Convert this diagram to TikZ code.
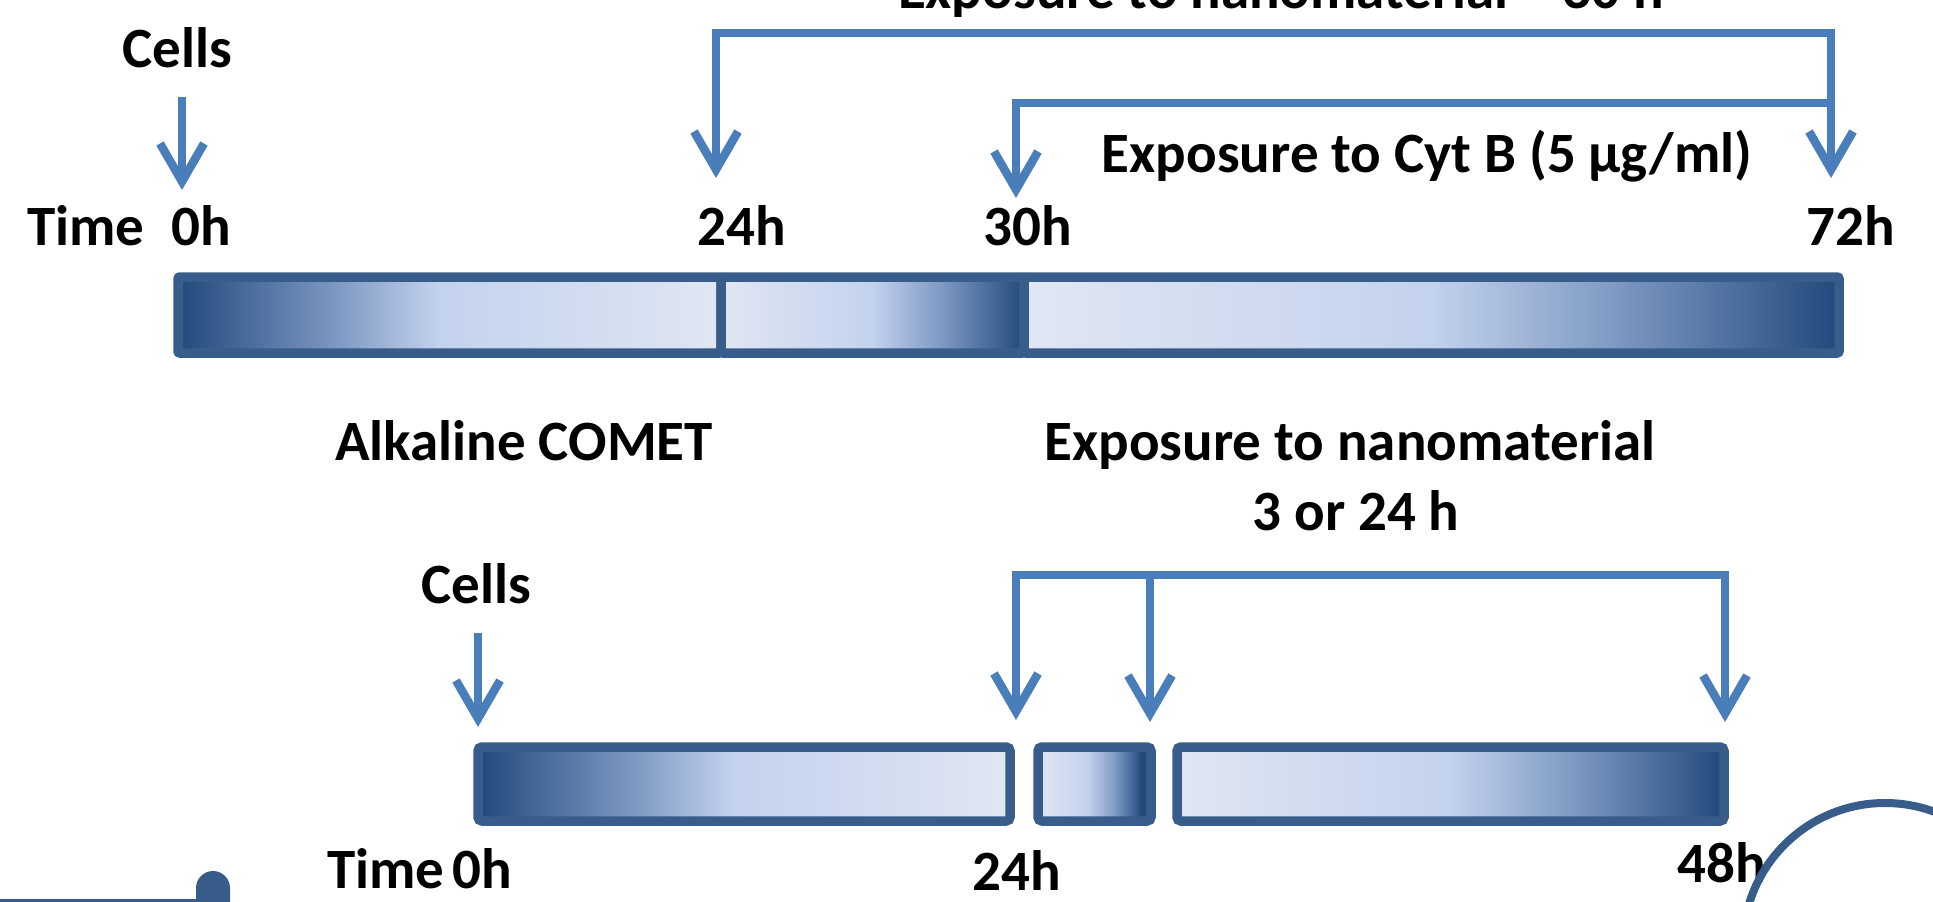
\documentclass[tikz,border=0pt]{standalone}
\usepackage{fontspec}
\setmainfont{Carlito}
\usetikzlibrary{arrows.meta}

\definecolor{arrowblue}{RGB}{74,126,187}
\definecolor{barline}{RGB}{56,93,138}
\definecolor{bardark}{RGB}{33,73,124}
\definecolor{barmid}{RGB}{128,155,196}
\definecolor{barlight}{RGB}{195,210,237}
\definecolor{barpale}{RGB}{224,230,243}

\pgfdeclarehorizontalshading{faderight}{100bp}{color(0bp)=(bardark); color(25bp)=(bardark); color(40bp)=(barmid); color(49bp)=(barlight); color(75bp)=(barpale); color(100bp)=(barpale)}
\pgfdeclarehorizontalshading{fadeleft}{100bp}{color(0bp)=(barpale); color(25bp)=(barpale); color(50bp)=(barlight); color(61bp)=(barmid); color(75bp)=(bardark); color(100bp)=(bardark)}
\pgfdeclarehorizontalshading{fadeleftshort}{100bp}{color(0bp)=(barpale); color(25bp)=(barpale); color(47bp)=(barlight); color(59bp)=(barmid); color(71bp)=(bardark); color(100bp)=(bardark)}

\begin{document}
\begin{tikzpicture}[x=1pt, y=-1pt,
	>={Straight Barb[length=38pt, width=44pt]},
	flow/.style={draw=arrowblue, line width=8.5pt, line join=miter, ->},
	lbl/.style={anchor=base, inner sep=0pt, font=\fontsize{57}{68}\selectfont\bfseries},
	barseg/.style={draw=barline, line width=9.5pt, rounded corners=2pt}]
	\useasboundingbox (0,0) rectangle (1933,902);

	% micronucleus timeline
	\node[lbl] (topexp) at (1281,9) {Exposure to nanomaterial – 30 h};
	\node[lbl] (cellsA) at (177,67) {Cells};
	\node[lbl] (timeA) at (86,245) {Time};
	\node[lbl] (hA0) at (201,245) {0h};
	\node[lbl] (hA24) at (742,245) {24h};
	\node[lbl] (hA30) at (1028,245) {30h};
	\node[lbl] (hA72) at (1851,245) {72h};
	\node[lbl] (cytb) at (1427,172) {Exposure to Cyt B (5 µg/ml)};

	\coordinate (cA) at (182,97);
	\coordinate (tA0) at (182,190);
	\coordinate (tA24) at (716,178);
	\coordinate (tA30) at (1016,198);
	\coordinate (tA72) at (1831,178);
	\coordinate (topA) at (1200,33);
	\coordinate (cytA) at (1831,103);
	\draw[flow] (cA) -- (tA0);
	\draw[flow, <->] (tA24) |- (topA) -| (tA72);
	\draw[flow, <-] (tA30) |- (cytA);

	\shadedraw[barseg, shading=faderight] (178,277) rectangle (721,353);
	\shadedraw[barseg, shading=fadeleft] (721,277) rectangle (1024,353);
	\shadedraw[barseg, shading=fadeleft] (1024,277) rectangle (1839,353);

	% comet timeline
	\node[lbl] (comet) at (524,460) {Alkaline COMET};
	\node[lbl] (expB) at (1350,460) {Exposure to nanomaterial};
	\node[lbl] (expBh) at (1356,530) {3 or 24 h};
	\node[lbl] (cellsB) at (476,603) {Cells};
	\node[lbl] (timeB) at (386,888) {Time};
	\node[lbl] (hB0) at (482,888) {0h};
	\node[lbl] (hB24) at (1017,890) {24h};
	\node[lbl] (hB48) at (1722,882) {48h};

	\coordinate (cB) at (478,633);
	\coordinate (tB0) at (478,727);
	\coordinate (tB24) at (1016,720);
	\coordinate (tBmid) at (1150,722);
	\coordinate (tB48) at (1725,722);
	\coordinate (topB) at (1400,575);
	\draw[flow] (cB) -- (tB0);
	\draw[flow, <->] (tB24) |- (topB) -| (tB48);
	\draw[flow] (tBmid |- topB) -- (tBmid);

	\shadedraw[barseg, rounded corners=4pt, shading=faderight] (478,747) rectangle (1010,821);
	\shadedraw[barseg, rounded corners=4pt, shading=fadeleftshort] (1038,747) rectangle (1151,821);
	\shadedraw[barseg, rounded corners=4pt, shading=fadeleft] (1177,747) rectangle (1724,821);

	% slide decoration
	\draw[barline, line width=8pt] (1885,945) circle (142pt);
	\draw[barline, line width=3pt] (0,900) -- (197,900);
	\fill[barline] (196,905) -- (196,888) arc[start angle=180, end angle=0, radius=17pt] -- (230,905) -- cycle;
%	\draw[arrowblue, line width=2pt] (207,886) arc[start angle=180, end angle=-60, radius=6pt] -- (212,900);
\end{tikzpicture}
\end{document}
